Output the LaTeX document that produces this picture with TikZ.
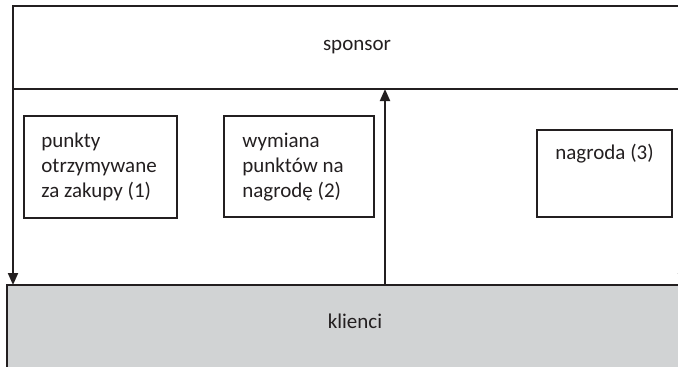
\documentclass[tikz,border=0pt]{standalone}
\usepackage{fontspec}
\setmainfont{Carlito}
\usepackage{xcolor}
\usetikzlibrary{arrows.meta}
\definecolor{linegray}{HTML}{231F20}
\definecolor{fillgray}{HTML}{D1D3D4}

\begin{document}
\begin{tikzpicture}[x=0.5pt, y=-0.5pt,
    every node/.style={font=\fontsize{10.5pt}{12.5pt}\selectfont, text=linegray},
    panel/.style={draw=linegray, line width=1pt, rectangle, inner sep=0pt, outer sep=0pt},
    txt/.style={align=left, inner sep=0pt},
    flow/.style={draw=linegray, line width=1pt, -{Triangle[length=6pt, width=5pt]}}]
    \useasboundingbox (0, 0) rectangle (678, 366);

    % sponsor
    \node[panel, minimum width=344pt, minimum height=41.5pt](sponsor) at (357, 47.5){sponsor};
    % klienci
    \node[panel, fill=fillgray, anchor=north west,
      minimum width=360pt, minimum height=60pt](klienci) at (7, 285){};
    \node[](klienciTxt) at (355, 321){klienci};

    % punkty (1)
    \node[panel, anchor=north west, minimum width=76.5pt, minimum height=51pt](zakupy) at (24, 116){};
    \node[txt, anchor=north west](zakupyTxt) at (41, 133){punkty\\otrzymywane\\za zakupy (1)};
    % wymiana (2)
    \node[panel, anchor=north west, minimum width=75pt, minimum height=50.5pt](wymiana) at (224, 116){};
    \node[txt, anchor=north west](wymianaTxt) at (242, 133){wymiana\\punktów na\\nagrodę (2)};
    % nagroda (3)
    \node[panel, anchor=north west, minimum width=67.5pt, minimum height=43.5pt](nagroda) at (537, 130){};
    \node[txt, anchor=base west](nagrodaTxt) at (555, 159){nagroda (3)};

    % arrows
    \coordinate (up) at (385, 0);
    \coordinate (edge) at (683, 0);
    \draw[flow] (sponsor.south west) -- (sponsor.south west |- klienci.north);
    \draw[flow] (up |- klienci.north) -- (up |- sponsor.south);
    \draw[flow] (edge |- sponsor.south) -- (edge |- klienci.north);
  \end{tikzpicture}
\end{document}
